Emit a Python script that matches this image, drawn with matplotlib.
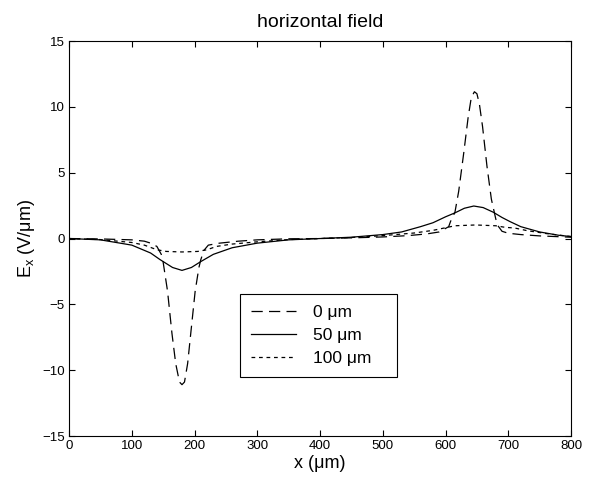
import numpy as np
import matplotlib
matplotlib.use("Agg")
import matplotlib.pyplot as plt

plt.rcParams['font.family'] = ['Liberation Sans', 'DejaVu Sans']
plt.rcParams['mathtext.fontset'] = 'custom'
plt.rcParams['mathtext.rm'] = 'Liberation Sans'
plt.rcParams['mathtext.it'] = 'Liberation Sans'

# 0 um height
x_0 = [0, 50, 100, 120, 130, 140, 147, 150, 157, 164, 170, 176, 180, 184, 189, 194, 201,
       207, 210, 215, 222, 240, 270, 300, 350, 400, 450, 500, 540, 570, 590, 605, 608,
       615, 621, 629, 636, 641, 646, 650, 654, 659, 666, 673, 680, 683, 690, 700, 720,
       750, 800]
e_0 = [0.0, -0.03, -0.1, -0.2, -0.35, -0.6, -1.2, -1.8, -4.0, -7.2, -9.5, -10.9, -11.1,
       -10.9, -9.5, -7.2, -4.0, -2.2, -1.6, -0.9, -0.5, -0.35, -0.2, -0.1, -0.02, 0.0,
       0.05, 0.12, 0.22, 0.35, 0.5, 0.9, 1.3, 2.0, 3.6, 6.5, 9.2, 10.7, 11.15, 11.0,
       10.2, 8.5, 5.5, 3.0, 1.5, 1.0, 0.55, 0.4, 0.3, 0.2, 0.1]

# 50 um height
x_50 = [0, 50, 100, 130, 145, 150, 165, 180, 195, 210, 230, 260, 300, 350, 400, 450,
        500, 530, 560, 580, 600, 615, 630, 645, 660, 676, 690, 703, 720, 750, 780, 800]
e_50 = [0.0, -0.1, -0.5, -1.1, -1.6, -1.75, -2.2, -2.42, -2.2, -1.75, -1.2, -0.7, -0.35,
        -0.1, 0.0, 0.1, 0.3, 0.5, 0.9, 1.2, 1.65, 1.95, 2.3, 2.47, 2.35, 2.0, 1.6, 1.28,
        0.9, 0.5, 0.25, 0.15]

# 100 um height
x_100 = [0, 50, 100, 120, 140, 155, 180, 205, 220, 235, 260, 300, 350, 400, 450, 500,
         550, 580, 600, 615, 648, 680, 695, 710, 730, 760, 800]
e_100 = [0.0, -0.08, -0.3, -0.5, -0.85, -0.98, -1.02, -0.98, -0.85, -0.6, -0.42, -0.25,
         -0.08, 0.0, 0.08, 0.22, 0.42, 0.62, 0.82, 0.97, 1.03, 0.97, 0.85, 0.8, 0.6,
         0.38, 0.15]

labels = ['0 μm', '50 μm', '100 μm']

fig = plt.figure(figsize=(5.92, 4.87), dpi=100)
ax = fig.add_axes([0.1166, 0.1047, 0.848, 0.811])

ax.plot(x_0, e_0, color='black', lw=0.9, dashes=(9, 5), label=labels[0])
ax.plot(x_50, e_50, color='black', lw=0.9, label=labels[1])
ax.plot(x_100, e_100, color='black', lw=0.9, dashes=(3, 3), label=labels[2])

ax.set_xlim(0, 800)
ax.set_ylim(-15, 15)
ax.set_xticks(np.arange(0, 801, 100))
ax.set_yticks(np.arange(-15, 16, 5))
ax.tick_params(direction='in', top=True, right=True, length=4, width=0.8,
               labelsize=9.5, pad=3)
for s in ax.spines.values():
    s.set_linewidth(0.8)

ax.set_title('horizontal field', fontsize=14, pad=10)
ax.set_xlabel('x (μm)', fontsize=13, labelpad=2)
ax.set_ylabel(r'E$_{\rm x}$ (V/μm)', fontsize=13, labelpad=4)

leg = ax.legend(loc='lower left', bbox_to_anchor=(0.34, 0.149, 0.313, 0.213),
                mode='expand', fontsize=12.5, frameon=True, fancybox=False,
                edgecolor='black', framealpha=1, handlelength=2.6,
                borderaxespad=0, borderpad=0.65, labelspacing=0.45,
                handletextpad=1.0)
leg.get_frame().set_linewidth(0.8)

fig.savefig('out.png', dpi=100)
